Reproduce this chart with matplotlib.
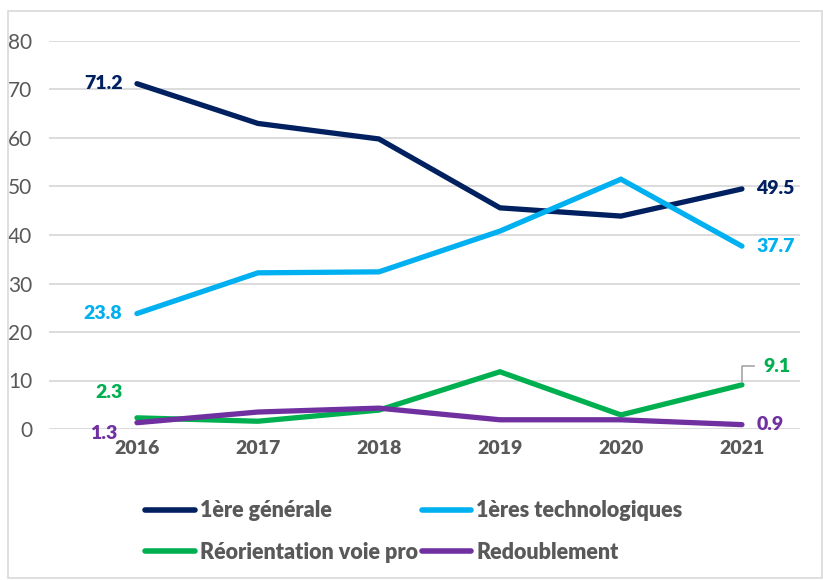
import matplotlib.pyplot as plt
from matplotlib.patches import Rectangle
from matplotlib.lines import Line2D

plt.rcParams['font.family'] = ['Lato', 'DejaVu Sans']

years = ["2016", "2017", "2018", "2019", "2020", "2021"]
generale = [71.2, 63.0, 59.8, 45.6, 43.9, 49.5]
techno = [23.8, 32.2, 32.4, 40.8, 51.5, 37.7]
reorient = [2.3, 1.6, 3.9, 11.8, 2.9, 9.1]
redoub = [1.3, 3.5, 4.3, 1.9, 1.9, 0.9]

names = ["1ère générale", "1ères technologiques", "Réorientation voie pro", "Redoublement"]
colors = ["#002060", "#00B0F0", "#00B050", "#7030A0"]
grey = "#595959"

fig = plt.figure(figsize=(8.23, 5.80), dpi=100)
fig.patches.append(Rectangle((8/823, 2/580), 814/823, 567/580, transform=fig.transFigure,
                             fill=False, edgecolor="#d9d9d9", linewidth=1.2))
ax = fig.add_axes([49/823, 1 - 429/580, 751/823, 388/580])

x = list(range(len(years)))
series = [generale, techno, reorient, redoub]
for vals, c in zip(series, colors):
    ax.plot(x, vals, color=c, linewidth=3.8, solid_capstyle="round", solid_joinstyle="miter")

ax.set_xlim(-0.727, 5.48)
ax.set_ylim(0, 80)
ax.set_yticks(range(0, 81, 10))
ax.set_xticks(x)
ax.set_xticklabels(years, fontsize=14, fontweight="heavy", color=grey)
ax.tick_params(axis="y", labelsize=15, colors=grey, length=0, pad=12)
ax.tick_params(axis="x", length=0, pad=8)
ax.grid(axis="y", color="#d9d9d9", linewidth=1.3)
ax.set_axisbelow(True)
for s in ax.spines.values():
    s.set_visible(False)

lab = dict(fontsize=14, fontweight="heavy")
ax.text(-0.12, 71.2, "71.2", color=colors[0], ha="right", va="center", **lab)
ax.text(-0.12, 23.8, "23.8", color=colors[1], ha="right", va="center", **lab)
ax.text(-0.12, 7.5, "2.3", color=colors[2], ha="right", va="center", **lab)
ax.text(-0.16, -0.9, "1.3", color=colors[3], ha="right", va="center", **lab)
ax.text(5.12, 49.5, "49.5", color=colors[0], ha="left", va="center", **lab)
ax.text(5.12, 37.7, "37.7", color=colors[1], ha="left", va="center", **lab)
ax.text(5.12, 0.9, "0.9", color=colors[3], ha="left", va="center", **lab)
ax.text(5.18, 12.9, "9.1", color=colors[2], ha="left", va="center", **lab)
ax.plot([5.0, 5.0, 5.1], [9.6, 12.9, 12.9], color="#a6a6a6", linewidth=1.2, clip_on=False)

handles = [Line2D([0], [0], color=c, linewidth=4, solid_capstyle="round") for c in colors]
order = [0, 2, 1, 3]
fig.legend([handles[i] for i in order], [names[i] for i in order],
           loc="upper left", bbox_to_anchor=(126/823, 1 - 481/580), ncol=2,
           frameon=False, handlelength=2.3, handletextpad=0.25,
           columnspacing=0.15, labelspacing=0.95, labelcolor=grey,
           prop={"weight": "heavy", "size": 15.5})

fig.savefig("out.png", dpi=100)
